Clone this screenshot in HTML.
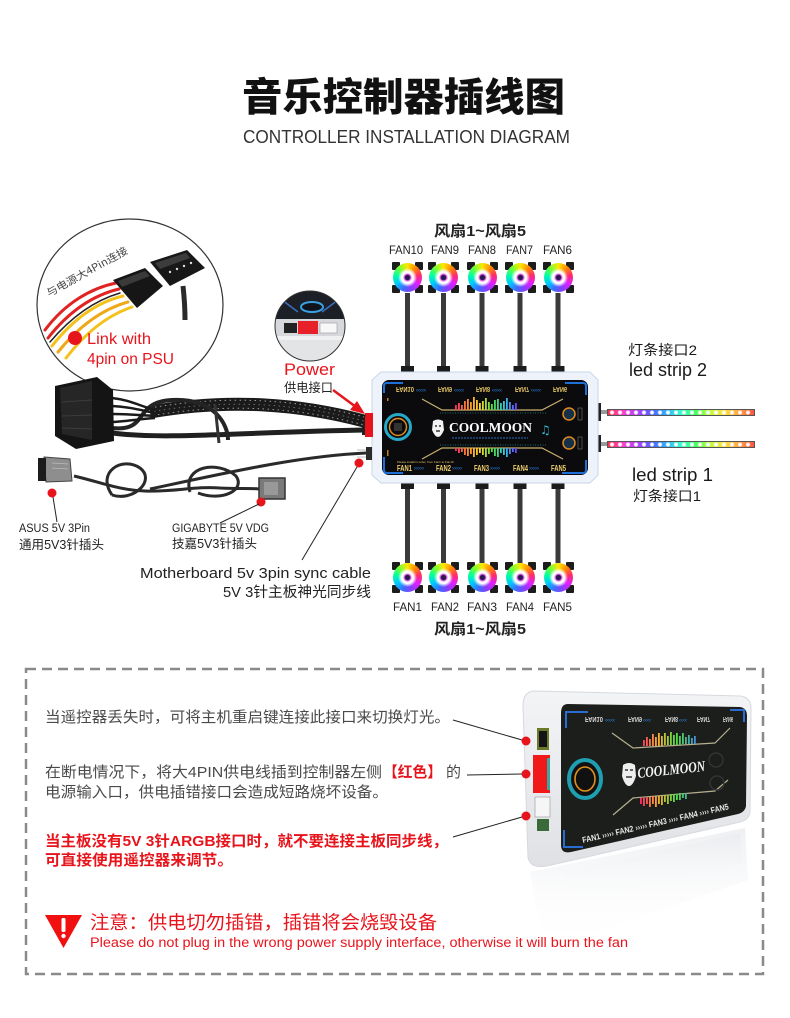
<!DOCTYPE html>
<html><head><meta charset="utf-8">
<style>
html,body{margin:0;padding:0;background:#fff}
body{width:790px;height:1018px;position:relative;overflow:hidden;font-family:"Liberation Sans","Noto Sans CJK SC",sans-serif}
svg{position:absolute;left:0;top:0}
.fan{position:absolute;width:31px;height:31px}
.fan i{position:absolute;width:8px;height:8px;background:#1c1c1c;border-radius:1px}
.fan .a{left:0;top:0}.fan .b{right:0;top:0}.fan .c{left:0;bottom:0}.fan .d{right:0;bottom:0}
.fan b{position:absolute;left:1px;top:1px;width:29px;height:29px;border-radius:50%;background:conic-gradient(#ffe600,#ff8a00,#ff2a6a,#e020ff,#8a3cff,#3c6cff,#00c8ff,#00ffa0,#7aff30,#ffe600)}
.fan u{position:absolute;left:6px;top:6px;width:19px;height:19px;border-radius:50%;background:radial-gradient(circle,#2a1a50 0 2.3px,#c050ff 3px,#ff80d0 3.6px,#fff 4.6px,#fff 6px,rgba(255,255,255,0) 9.5px)}
.led{position:absolute;left:607px;width:146px;height:5px;border:1px solid #555;background:radial-gradient(circle,#fff 0 1.3px,rgba(255,255,255,0) 2.6px) 0 0/8px 100% repeat-x,linear-gradient(90deg,#ff3050,#ff40d0,#b040ff,#5060ff,#30b0ff,#30ffd0,#40ff60,#c0ff40,#ffe040,#ffa040,#ff5040)}
</style></head><body>
<svg width="790" height="1018" viewBox="0 0 790 1018" xmlns="http://www.w3.org/2000/svg">
<defs>
<linearGradient id="eq" gradientUnits="userSpaceOnUse" x1="455" y1="0" x2="517" y2="0">
<stop offset="0" stop-color="#ff2a6a"/><stop offset=".2" stop-color="#ff8a30"/><stop offset=".4" stop-color="#ffd830"/><stop offset=".6" stop-color="#50e040"/><stop offset=".8" stop-color="#30c8e0"/><stop offset="1" stop-color="#7040ff"/></linearGradient>
<linearGradient id="eq2" gradientUnits="userSpaceOnUse" x1="640" y1="0" x2="700" y2="0">
<stop offset="0" stop-color="#ff2a6a"/><stop offset=".3" stop-color="#ffb030"/><stop offset=".6" stop-color="#50e040"/><stop offset="1" stop-color="#4080ff"/></linearGradient>
<linearGradient id="shell" x1="0" y1="0" x2="0" y2="1"><stop offset="0" stop-color="#f3f4f6"/><stop offset="1" stop-color="#dfe1e5"/></linearGradient>
<linearGradient id="refl" x1="0" y1="0" x2="0" y2="1"><stop offset="0" stop-color="#e2e5e9" stop-opacity=".6"/><stop offset="1" stop-color="#ffffff" stop-opacity="0"/></linearGradient>
<clipPath id="psu"><ellipse cx="130" cy="305" rx="93" ry="86"/></clipPath>
<clipPath id="pc"><circle cx="310" cy="326" r="35"/></clipPath>
</defs>

<!-- Title -->
<text x="242" y="111" font-family="Noto Sans CJK SC, sans-serif" font-size="39" font-weight="900" fill="#111" textLength="323" lengthAdjust="spacingAndGlyphs">音乐控制器插线图</text>
<text x="243" y="143" font-family="Liberation Sans, sans-serif" font-size="18.5" fill="#333" textLength="327" lengthAdjust="spacingAndGlyphs">CONTROLLER INSTALLATION DIAGRAM</text>

<!-- Fan headings -->
<g font-family="Liberation Sans, Noto Sans CJK SC, sans-serif" fill="#222">
<text x="434" y="236" font-size="15" font-weight="700" textLength="92" lengthAdjust="spacingAndGlyphs">风扇1~风扇5</text>
<text x="389" y="254" font-size="12" textLength="34" lengthAdjust="spacingAndGlyphs">FAN10</text>
<text x="431" y="254" font-size="12" textLength="28" lengthAdjust="spacingAndGlyphs">FAN9</text>
<text x="468" y="254" font-size="12" textLength="28" lengthAdjust="spacingAndGlyphs">FAN8</text>
<text x="506" y="254" font-size="12" textLength="27" lengthAdjust="spacingAndGlyphs">FAN7</text>
<text x="543" y="254" font-size="12" textLength="29" lengthAdjust="spacingAndGlyphs">FAN6</text>
<text x="393" y="611" font-size="12" textLength="29" lengthAdjust="spacingAndGlyphs">FAN1</text>
<text x="431" y="611" font-size="12" textLength="28" lengthAdjust="spacingAndGlyphs">FAN2</text>
<text x="467" y="611" font-size="12" textLength="30" lengthAdjust="spacingAndGlyphs">FAN3</text>
<text x="506" y="611" font-size="12" textLength="28" lengthAdjust="spacingAndGlyphs">FAN4</text>
<text x="543" y="611" font-size="12" textLength="29" lengthAdjust="spacingAndGlyphs">FAN5</text>
<text x="434" y="634" font-size="15" font-weight="700" textLength="92" lengthAdjust="spacingAndGlyphs">风扇1~风扇5</text>
</g>

<!-- Fan cables -->
<g fill="#3a3a3a">
<rect x="405" y="293" width="5" height="74"/><rect x="441" y="293" width="5" height="74"/><rect x="479.5" y="293" width="5" height="74"/><rect x="517.5" y="293" width="5" height="74"/><rect x="555.5" y="293" width="5" height="74"/>
<rect x="405" y="487" width="5" height="76"/><rect x="441" y="487" width="5" height="76"/><rect x="479.5" y="487" width="5" height="76"/><rect x="517.5" y="487" width="5" height="76"/><rect x="555.5" y="487" width="5" height="76"/>
</g>
<g fill="#1c1c1c">
<rect x="401" y="366" width="13" height="7"/><rect x="437" y="366" width="13" height="7"/><rect x="475.5" y="366" width="13" height="7"/><rect x="513.5" y="366" width="13" height="7"/><rect x="551.5" y="366" width="13" height="7"/>
<rect x="401" y="482" width="13" height="7"/><rect x="437" y="482" width="13" height="7"/><rect x="475.5" y="482" width="13" height="7"/><rect x="513.5" y="482" width="13" height="7"/><rect x="551.5" y="482" width="13" height="7"/>
</g>

<!-- LED strip connectors -->
<rect x="594" y="403" width="7" height="18" fill="#222"/>
<rect x="594" y="435" width="7" height="17" fill="#222"/>
<rect x="601" y="410" width="7" height="4" fill="#9a9a9a"/>
<rect x="601" y="442" width="7" height="4" fill="#9a9a9a"/>

<!-- Controller (top view) -->
<path d="M381,372 H590 L598,380 V475 L590,483 H381 L372,475 V380 Z" fill="#eef3fb" stroke="#c9d6ea"/>
<rect x="382" y="380" width="206" height="95" rx="7" fill="#0b0b0d"/>
<g fill="none" stroke="#1e6fd8" stroke-width="2">
<path d="M384,393 V386 Q384,383 387,383 H403"/>
<path d="M565,383 H583 Q586,383 586,386 V395"/>
<path d="M384,457 V470 Q384,473 387,473 H403"/>
<path d="M562,473 H583 Q586,473 586,470 V460"/>
</g>
<g font-family="Liberation Sans, sans-serif" font-size="7" font-weight="700" fill="#e8c868">
<text transform="translate(396,387) scale(1,-1)" textLength="18" lengthAdjust="spacingAndGlyphs">FAN10</text>
<text transform="translate(438,387) scale(1,-1)" textLength="14" lengthAdjust="spacingAndGlyphs">FAN9</text>
<text transform="translate(476,387) scale(1,-1)" textLength="14" lengthAdjust="spacingAndGlyphs">FAN8</text>
<text transform="translate(515,387) scale(1,-1)" textLength="14" lengthAdjust="spacingAndGlyphs">FAN7</text>
<text transform="translate(553,387) scale(1,-1)" textLength="14" lengthAdjust="spacingAndGlyphs">FAN6</text>
</g>
<g font-family="Liberation Sans, sans-serif" font-size="6" fill="#2a8cff">
<text x="416" y="392">‹‹‹‹‹</text><text x="454" y="392">‹‹‹‹‹</text><text x="492" y="392">‹‹‹‹‹</text><text x="531" y="392">‹‹‹‹‹</text>
<text x="414" y="470">›››››</text><text x="452" y="470">›››››</text><text x="490" y="470">›››››</text><text x="529" y="470">›››››</text>
</g>
<g font-family="Liberation Sans, sans-serif" font-size="8" font-weight="700" fill="#f0d070">
<text x="397" y="471" textLength="15" lengthAdjust="spacingAndGlyphs">FAN1</text>
<text x="436" y="471" textLength="15" lengthAdjust="spacingAndGlyphs">FAN2</text>
<text x="474" y="471" textLength="15" lengthAdjust="spacingAndGlyphs">FAN3</text>
<text x="513" y="471" textLength="15" lengthAdjust="spacingAndGlyphs">FAN4</text>
<text x="551" y="471" textLength="15" lengthAdjust="spacingAndGlyphs">FAN5</text>
</g>
<text x="397" y="463" font-family="Liberation Sans, sans-serif" font-size="3" fill="#e8c060">Please install in order, from Fan1 to Fan10</text>
<g fill="none" stroke="#c8b070" stroke-width="1.2">
<path d="M422,399 L442,410 H542 L563,399"/>
<path d="M422,459 L442,448 H542 L563,459"/>
</g>
<g stroke="#1e6a6a" stroke-width="1" stroke-dasharray="1 1.5">
<line x1="440" y1="413" x2="546" y2="413"/><line x1="440" y1="445" x2="546" y2="445"/>
</g>
<g fill="url(#eq)">
<rect x="455" y="405" width="1.8" height="5"/><rect x="458" y="403" width="1.8" height="7"/><rect x="461" y="405" width="1.8" height="5"/><rect x="464" y="401" width="1.8" height="9"/><rect x="467" y="399" width="1.8" height="11"/><rect x="470" y="402" width="1.8" height="8"/><rect x="473" y="397" width="1.8" height="13"/><rect x="476" y="400" width="1.8" height="10"/><rect x="479" y="403" width="1.8" height="7"/><rect x="482" y="401" width="1.8" height="9"/><rect x="485" y="398" width="1.8" height="12"/><rect x="488" y="402" width="1.8" height="8"/><rect x="491" y="404" width="1.8" height="6"/><rect x="494" y="400" width="1.8" height="10"/><rect x="497" y="399" width="1.8" height="11"/><rect x="500" y="403" width="1.8" height="7"/><rect x="503" y="401" width="1.8" height="9"/><rect x="506" y="398" width="1.8" height="12"/><rect x="509" y="402" width="1.8" height="8"/><rect x="512" y="405" width="1.8" height="5"/><rect x="515" y="403" width="1.8" height="7"/>
<rect x="455" y="448" width="1.8" height="3"/><rect x="458" y="448" width="1.8" height="5"/><rect x="461" y="448" width="1.8" height="4"/><rect x="464" y="448" width="1.8" height="7"/><rect x="467" y="448" width="1.8" height="8"/><rect x="470" y="448" width="1.8" height="6"/><rect x="473" y="448" width="1.8" height="9"/><rect x="476" y="448" width="1.8" height="7"/><rect x="479" y="448" width="1.8" height="5"/><rect x="482" y="448" width="1.8" height="7"/><rect x="485" y="448" width="1.8" height="9"/><rect x="488" y="448" width="1.8" height="6"/><rect x="491" y="448" width="1.8" height="4"/><rect x="494" y="448" width="1.8" height="8"/><rect x="497" y="448" width="1.8" height="9"/><rect x="500" y="448" width="1.8" height="5"/><rect x="503" y="448" width="1.8" height="7"/><rect x="506" y="448" width="1.8" height="9"/><rect x="509" y="448" width="1.8" height="6"/><rect x="512" y="448" width="1.8" height="4"/><rect x="515" y="448" width="1.8" height="5"/>
</g>
<path d="M433,421 Q438,418 443,421 L444,430 Q441,437 438,437 Q435,437 432,430 Z" fill="#f2f2f2"/>
<path d="M435,426 H437 M439,426 H441 M436,431 H440" stroke="#111" stroke-width="1.2"/>
<text x="449" y="432" font-family="Liberation Serif, serif" font-size="14" font-weight="700" fill="#fff" textLength="83" lengthAdjust="spacingAndGlyphs">COOLMOON</text>
<text x="540" y="434" font-family="DejaVu Sans, sans-serif" font-size="12" fill="#38b8d0">♫</text>
<line x1="452" y1="438" x2="528" y2="438" stroke="#2a6cc0" stroke-width="1" stroke-dasharray="2 1"/>
<circle cx="398" cy="427" r="12.5" fill="#0b0b0d" stroke="#26a8c8" stroke-width="3"/>
<circle cx="398" cy="427" r="8.5" fill="none" stroke="#e08a20" stroke-width="1.5"/>
<rect x="394" y="423" width="8" height="8" fill="#333"/>
<circle cx="569" cy="414" r="6" fill="#163048" stroke="#e08a20" stroke-width="1.5"/>
<circle cx="569" cy="443" r="6" fill="#163048" stroke="#e08a20" stroke-width="1.5"/>
<rect x="578" y="408" width="4" height="12" fill="none" stroke="#888" stroke-width=".5"/>
<rect x="578" y="437" width="4" height="12" fill="none" stroke="#888" stroke-width=".5"/>
<rect x="387" y="398" width="1.5" height="3" fill="#c08020"/>
<rect x="387" y="450" width="1.5" height="6" fill="#c08020"/>

<!-- Controller left connectors -->
<rect x="365" y="413" width="8" height="24" fill="#e8141c"/>
<rect x="362" y="415" width="3" height="20" fill="#222"/>
<rect x="366" y="447" width="6" height="13" fill="#2a2a2a"/>
<g stroke="#aaa" stroke-width=".8"><line x1="357" y1="450" x2="366" y2="450"/><line x1="357" y1="453.5" x2="366" y2="453.5"/><line x1="357" y1="457" x2="366" y2="457"/></g>

<!-- Labels right -->
<g font-family="Liberation Sans, Noto Sans CJK SC, sans-serif" fill="#1a1a1a">
<text x="628" y="355" font-size="14" textLength="69" lengthAdjust="spacingAndGlyphs">灯条接口2</text>
<text x="629" y="376" font-size="18" textLength="78" lengthAdjust="spacingAndGlyphs">led strip 2</text>
<text x="632" y="481" font-size="18" textLength="81" lengthAdjust="spacingAndGlyphs">led strip 1</text>
<text x="633" y="501" font-size="14" textLength="68" lengthAdjust="spacingAndGlyphs">灯条接口1</text>
</g>

<!-- PSU circle -->
<g clip-path="url(#psu)">
<g fill="none" stroke-width="3" stroke-linecap="round">
<path d="M116,283 C92,288 66,302 45,330" stroke="#e02424"/>
<path d="M119,289 C94,295 70,310 48,338" stroke="#e02424"/>
<path d="M123,296 C98,302 74,318 52,346" stroke="#f3c21c"/>
<path d="M128,302 C103,309 80,325 58,352" stroke="#f0a818"/>
<path d="M132,307 C108,315 86,332 66,358" stroke="#f3c21c"/>
<path d="M120,293 C96,300 72,316 50,342" stroke="#222" stroke-width="1.5"/>
</g>
<path d="M183,286 C184,295 185,305 185,320" stroke="#2a2a2a" stroke-width="5" fill="none"/>
<path d="M113,280 L145,268 L163,286 L137,308 Z" fill="#161616"/>
<path d="M118,281 L145,271 L150,276 L122,287 Z" fill="#3a3a3a"/>
<path d="M150,262 L187,250 L205,268 L170,286 Z" fill="#181818"/>
<path d="M155,263 L186,253 L190,258 L160,269 Z" fill="#3c3c3c"/>
<g fill="#ddd"><circle cx="170" cy="272" r="1.2"/><circle cx="177" cy="269" r="1.2"/><circle cx="184" cy="266" r="1.2"/><circle cx="191" cy="263" r="1.2"/></g>
</g>
<ellipse cx="130" cy="305" rx="93" ry="86" fill="none" stroke="#333" stroke-width="1.2"/>
<text transform="translate(49,297) rotate(-29)" font-family="Noto Sans CJK SC, sans-serif" font-size="10.5" fill="#444" textLength="91" lengthAdjust="spacingAndGlyphs">与电源大4Pin连接</text>
<circle cx="75" cy="338" r="7" fill="#e8141c"/>
<g font-family="Liberation Sans, sans-serif" font-size="15.5" fill="#e8141c">
<text x="87" y="344" textLength="64" lengthAdjust="spacingAndGlyphs">Link with</text>
<text x="87" y="364" textLength="87" lengthAdjust="spacingAndGlyphs">4pin on PSU</text>
</g>

<!-- Power inset -->
<g clip-path="url(#pc)">
<rect x="275" y="291" width="70" height="70" fill="#eef0f2"/>
<rect x="275" y="291" width="70" height="28" fill="#1c1f26"/>
<path d="M282,300 L298,312 M338,300 L322,312" stroke="#3a70c0" stroke-width="1.5"/>
<ellipse cx="312" cy="307" rx="11" ry="5" fill="#10141c" stroke="#3aa0e0" stroke-width="2"/>
<rect x="275" y="319" width="70" height="17" fill="#d6d8db"/>
<rect x="284" y="323" width="13" height="10" fill="#222"/>
<rect x="298" y="321" width="20" height="13" fill="#e8202a"/>
<rect x="320" y="323" width="17" height="10" fill="#f8f8f8" stroke="#999" stroke-width=".6"/>
<rect x="275" y="340" width="70" height="22" fill="#e2e4e6"/>
</g>
<circle cx="310" cy="326" r="35" fill="none" stroke="#333" stroke-width="1"/>
<text x="284" y="375" font-family="Liberation Sans, sans-serif" font-size="17" fill="#e8141c" textLength="51" lengthAdjust="spacingAndGlyphs">Power</text>
<text x="284" y="392" font-family="Noto Sans CJK SC, sans-serif" font-size="12.5" fill="#222" textLength="49" lengthAdjust="spacingAndGlyphs">供电接口</text>
<line x1="333" y1="390" x2="356" y2="407" stroke="#e8141c" stroke-width="2.5"/>
<path d="M365,414 L350,410 L357,401 Z" fill="#e8141c"/>

<!-- Big molex + bundle -->
<path d="M150,412 C230,398 300,404 364,421" stroke="#1a1a1a" stroke-width="13" fill="none"/>
<path d="M150,408 C230,394 300,400 364,417" stroke="#9a9a9a" stroke-width="1" stroke-dasharray="1.5 3.5" fill="none"/>
<path d="M150,412 C230,398 300,404 364,421" stroke="#6a6a6a" stroke-width="1" stroke-dasharray="1.5 3.5" stroke-dashoffset="1" fill="none"/>
<path d="M150,416 C230,402 300,408 364,425" stroke="#9a9a9a" stroke-width="1" stroke-dasharray="1.5 3.5" stroke-dashoffset="2" fill="none"/>
<path d="M113,433 C160,440 250,432 364,430" stroke="#202020" stroke-width="5" fill="none"/>
<path d="M112,428 C150,432 132,402 172,400 C215,398 228,425 228,440" stroke="#242424" stroke-width="4" fill="none"/>
<path d="M215,405 L219,443" stroke="#333" stroke-width="3"/>
<g stroke="#1a1a1a" stroke-width="2.5" fill="none">
<path d="M112,398 C130,400 140,406 155,410"/><path d="M112,406 C130,407 140,410 155,413"/><path d="M112,414 C130,414 140,415 155,416"/><path d="M112,422 C130,421 140,419 155,418"/>
</g>
<path d="M55,386 L97,377 L113,390 L114,441 L76,449 L55,436 Z" fill="#141414"/>
<path d="M60,388 L92,381 L92,440 L62,434 Z" fill="#262626"/>
<g stroke="#3c3c3c" stroke-width="1"><line x1="62" y1="402" x2="92" y2="400"/><line x1="62" y1="416" x2="92" y2="415"/><line x1="62" y1="428" x2="92" y2="429"/></g>

<!-- Sync cable -->
<g stroke="#2a2a2a" stroke-width="3" fill="none">
<path d="M74,476 C100,482 118,490 145,491 C175,492 195,486 220,488 C240,489 250,488 259,489"/>
<path d="M112,495 C96,472 122,456 140,468 C156,480 134,502 112,495"/>
<path d="M190,492 C182,466 218,460 236,476 C246,490 222,502 198,493"/>
<path d="M150,489 C230,472 300,456 366,453"/>
</g>
<path d="M44,457 L70,459 L72,481 L46,482 Z" fill="#8e8e8e" stroke="#444" stroke-width="1"/>
<rect x="38" y="458" width="8" height="23" fill="#1c1c1c"/>
<g stroke="#bbb" stroke-width=".8"><line x1="52" y1="463" x2="68" y2="464"/><line x1="52" y1="468" x2="68" y2="469"/></g>
<rect x="259" y="478" width="26" height="21" fill="#7a7a7a" stroke="#333" stroke-width="1.5"/>
<rect x="264" y="482" width="14" height="13" fill="#999"/>

<!-- Red dots & leader lines -->
<g fill="#e8141c"><circle cx="52" cy="493" r="4.5"/><circle cx="261" cy="502" r="4.5"/><circle cx="359" cy="463" r="4.5"/></g>
<g stroke="#222" stroke-width="1"><line x1="53" y1="497" x2="57" y2="522"/><line x1="259" y1="504" x2="220" y2="523"/><line x1="357" y1="467" x2="302" y2="560"/></g>

<!-- Left labels -->
<g font-family="Liberation Sans, Noto Sans CJK SC, sans-serif" fill="#222">
<text x="19" y="532" font-size="11.5" textLength="71" lengthAdjust="spacingAndGlyphs">ASUS 5V 3Pin</text>
<text x="19" y="549" font-size="12.5" textLength="85" lengthAdjust="spacingAndGlyphs">通用5V3针插头</text>
<text x="172" y="532" font-size="11.5" textLength="97" lengthAdjust="spacingAndGlyphs">GIGABYTE 5V  VDG</text>
<text x="172" y="548" font-size="12.5" textLength="85" lengthAdjust="spacingAndGlyphs">技嘉5V3针插头</text>
<text x="140" y="578" font-size="14.5" textLength="231" lengthAdjust="spacingAndGlyphs">Motherboard 5v 3pin sync cable</text>
<text x="223" y="597" font-size="14.5" textLength="148" lengthAdjust="spacingAndGlyphs">5V 3针主板神光同步线</text>
</g>

<!-- Dashed box -->
<rect x="26" y="669" width="737" height="305" fill="none" stroke="#8a8a8a" stroke-width="2.5" stroke-dasharray="10 6"/>

<!-- Box text -->
<g font-family="Liberation Sans, Noto Sans CJK SC, sans-serif" font-size="15">
<text x="45" y="722" fill="#4a4a4a" textLength="405" lengthAdjust="spacingAndGlyphs">当遥控器丢失时，可将主机重启键连接此接口来切换灯光。</text>
<text x="45" y="777" fill="#4a4a4a" textLength="337" lengthAdjust="spacingAndGlyphs">在断电情况下，将大4PIN供电线插到控制器左侧</text>
<text x="383" y="777" fill="#e8141c" font-weight="700" textLength="59" lengthAdjust="spacingAndGlyphs">【红色】</text>
<text x="446" y="777" fill="#4a4a4a" textLength="15" lengthAdjust="spacingAndGlyphs">的</text>
<text x="45" y="797" fill="#4a4a4a" textLength="343" lengthAdjust="spacingAndGlyphs">电源输入口，供电插错接口会造成短路烧坏设备。</text>
<text x="45" y="846" fill="#e8141c" font-weight="700" textLength="403" lengthAdjust="spacingAndGlyphs">当主板没有5V 3针ARGB接口时，就不要连接主板同步线，</text>
<text x="45" y="865" fill="#e8141c" font-weight="700" textLength="188" lengthAdjust="spacingAndGlyphs">可直接使用遥控器来调节。</text>
</g>
<g stroke="#222" stroke-width="1"><line x1="453" y1="720" x2="522" y2="740"/><line x1="467" y1="775" x2="522" y2="774"/><line x1="453" y1="837" x2="522" y2="817"/></g>

<!-- Product reflection -->
<path d="M530,872 L745,828 L748,880 L545,950 Z" fill="url(#refl)"/>
<path d="M565,872 L740,833 L742,862 L570,905 Z" fill="url(#refl)" opacity=".6"/>

<!-- Product -->
<path d="M535,691 L741,696 Q751,698 751,708 L750,812 Q749,820 740,822 L547,866 Q531,869 528,858 L523,706 Q523,691 535,691 Z" fill="url(#shell)" stroke="#d6d9de"/>
<path d="M568,704 L740,707 Q747,708 747,716 L746,806 Q745,812 738,814 L571,852 Q561,854 561,845 L561,713 Q561,704 568,704 Z" fill="#1b1e1b"/>
<g fill="none" stroke="#2a6cd0" stroke-width="2">
<path d="M566,728 V712 H588"/><path d="M564,830 V847 H583"/><path d="M730,710 H744 V722"/>
</g>
<g font-family="Liberation Sans, sans-serif" font-size="7" fill="#d8d8d8" font-weight="700">
<text transform="translate(585,717) scale(1,-1)" textLength="18" lengthAdjust="spacingAndGlyphs">FAN10</text>
<text transform="translate(628,717) scale(1,-1)" textLength="14" lengthAdjust="spacingAndGlyphs">FAN9</text>
<text transform="translate(665,717) scale(1,-1)" textLength="13" lengthAdjust="spacingAndGlyphs">FAN8</text>
<text transform="translate(697,717) scale(1,-1)" textLength="13" lengthAdjust="spacingAndGlyphs">FAN7</text>
<text transform="translate(723,717) scale(1,-1)" textLength="10" lengthAdjust="spacingAndGlyphs">FAN6</text>
</g>
<g font-family="Liberation Sans, sans-serif" font-size="6" fill="#2a8cff"><text x="605" y="722">‹‹‹‹‹</text><text x="643" y="722">‹‹‹‹</text><text x="679" y="722">‹‹‹‹</text></g>
<g fill="none" stroke="#b8b090" stroke-width="1.2">
<path d="M612,733 L633,748 L715,743 L730,728"/>
<path d="M613,815 L633,798 L715,791 L728,780"/>
</g>
<g fill="url(#eq2)">
<rect x="643" y="740" width="1.8" height="6"/><rect x="646" y="737" width="1.8" height="9"/><rect x="649" y="739" width="1.8" height="7"/><rect x="652" y="734" width="1.8" height="12"/><rect x="655" y="737" width="1.8" height="9"/><rect x="658" y="733" width="1.8" height="13"/><rect x="661" y="736" width="1.8" height="10"/><rect x="664" y="733" width="1.8" height="12"/><rect x="667" y="736" width="1.8" height="9"/><rect x="670" y="732" width="1.8" height="13"/><rect x="673" y="735" width="1.8" height="10"/><rect x="676" y="733" width="1.8" height="12"/><rect x="679" y="736" width="1.8" height="9"/><rect x="682" y="733" width="1.8" height="11"/><rect x="685" y="737" width="1.8" height="7"/><rect x="688" y="735" width="1.8" height="9"/><rect x="691" y="738" width="1.8" height="6"/><rect x="694" y="736" width="1.8" height="8"/>
<rect x="640" y="798" width="1.8" height="6"/><rect x="643" y="797" width="1.8" height="9"/><rect x="646" y="797" width="1.8" height="7"/><rect x="649" y="797" width="1.8" height="10"/><rect x="652" y="796" width="1.8" height="8"/><rect x="655" y="796" width="1.8" height="11"/><rect x="658" y="796" width="1.8" height="8"/><rect x="661" y="795" width="1.8" height="10"/><rect x="664" y="795" width="1.8" height="7"/><rect x="667" y="795" width="1.8" height="9"/><rect x="670" y="794" width="1.8" height="7"/><rect x="673" y="794" width="1.8" height="8"/><rect x="676" y="794" width="1.8" height="6"/><rect x="679" y="793" width="1.8" height="7"/><rect x="682" y="793" width="1.8" height="5"/><rect x="685" y="793" width="1.8" height="6"/>
</g>
<ellipse cx="585" cy="779" rx="16" ry="19" fill="#111" stroke="#1fa0b2" stroke-width="4"/>
<ellipse cx="585" cy="779" rx="10" ry="12" fill="none" stroke="#e0901e" stroke-width="1.6"/>
<path d="M623,765 Q629,761 635,765 L636,776 Q633,786 629,786 Q625,786 622,776 Z" fill="#eee"/>
<path d="M625,770 H628 M630,770 H633 M626,777 H632" stroke="#111" stroke-width="1.2"/>
<text transform="translate(638,778) rotate(-6)" font-family="Liberation Serif, serif" font-size="15" font-weight="700" font-style="italic" fill="#f4f4f4" textLength="68" lengthAdjust="spacingAndGlyphs">COOLMOON</text>
<text transform="translate(583,843) rotate(-13)" font-family="Liberation Sans, sans-serif" font-size="8.5" font-weight="700" fill="#e8e8e8" textLength="150" lengthAdjust="spacingAndGlyphs">FAN1 ››››› FAN2 ››››› FAN3 ›››› FAN4 ›››› FAN5</text>
<circle cx="716" cy="760" r="7" fill="none" stroke="#333" stroke-width="1.5"/>
<circle cx="717" cy="783" r="7" fill="none" stroke="#333" stroke-width="1.5"/>
<rect x="537" y="728" width="12" height="22" fill="#6a7a2a"/>
<rect x="539" y="731" width="8" height="16" fill="#141414"/>
<rect x="533" y="755" width="17" height="38" fill="#f01818"/>
<rect x="547" y="758" width="3" height="32" fill="#3aa8a0"/>
<rect x="535" y="797" width="15" height="20" fill="#f6f6f6" stroke="#aaa" stroke-width=".8"/>
<rect x="537" y="819" width="12" height="12" fill="#3a6a3a"/>
<g fill="#e8141c"><circle cx="526" cy="741" r="4.5"/><circle cx="526" cy="774" r="4.5"/><circle cx="526" cy="816" r="4.5"/></g>

<!-- Warning -->
<path d="M45,915 L82,915 L63.5,948 Z" fill="#f01010"/>
<rect x="61.5" y="918" width="4" height="14" rx="1.5" fill="#fff"/>
<circle cx="63.5" cy="936" r="2.2" fill="#fff"/>
<text x="90" y="929" font-family="Noto Sans CJK SC, sans-serif" font-size="18.5" fill="#e8141c" textLength="347" lengthAdjust="spacingAndGlyphs">注意：供电切勿插错，插错将会烧毁设备</text>
<text x="90" y="947" font-family="Liberation Sans, sans-serif" font-size="13.5" fill="#e8141c" textLength="538" lengthAdjust="spacingAndGlyphs">Please do not plug in the wrong power supply interface, otherwise it will burn the fan</text>
</svg>

<div class="fan" style="left:392px;top:262px"><i class="a"></i><i class="b"></i><i class="c"></i><i class="d"></i><b></b><u></u></div>
<div class="fan" style="left:428px;top:262px"><i class="a"></i><i class="b"></i><i class="c"></i><i class="d"></i><b></b><u></u></div>
<div class="fan" style="left:466.5px;top:262px"><i class="a"></i><i class="b"></i><i class="c"></i><i class="d"></i><b></b><u></u></div>
<div class="fan" style="left:504.5px;top:262px"><i class="a"></i><i class="b"></i><i class="c"></i><i class="d"></i><b></b><u></u></div>
<div class="fan" style="left:542.5px;top:262px"><i class="a"></i><i class="b"></i><i class="c"></i><i class="d"></i><b></b><u></u></div>
<div class="fan" style="left:392px;top:562px"><i class="a"></i><i class="b"></i><i class="c"></i><i class="d"></i><b></b><u></u></div>
<div class="fan" style="left:428px;top:562px"><i class="a"></i><i class="b"></i><i class="c"></i><i class="d"></i><b></b><u></u></div>
<div class="fan" style="left:466.5px;top:562px"><i class="a"></i><i class="b"></i><i class="c"></i><i class="d"></i><b></b><u></u></div>
<div class="fan" style="left:504.5px;top:562px"><i class="a"></i><i class="b"></i><i class="c"></i><i class="d"></i><b></b><u></u></div>
<div class="fan" style="left:542.5px;top:562px"><i class="a"></i><i class="b"></i><i class="c"></i><i class="d"></i><b></b><u></u></div>
<div class="led" style="top:409px"></div>
<div class="led" style="top:441px"></div>
</body></html>
